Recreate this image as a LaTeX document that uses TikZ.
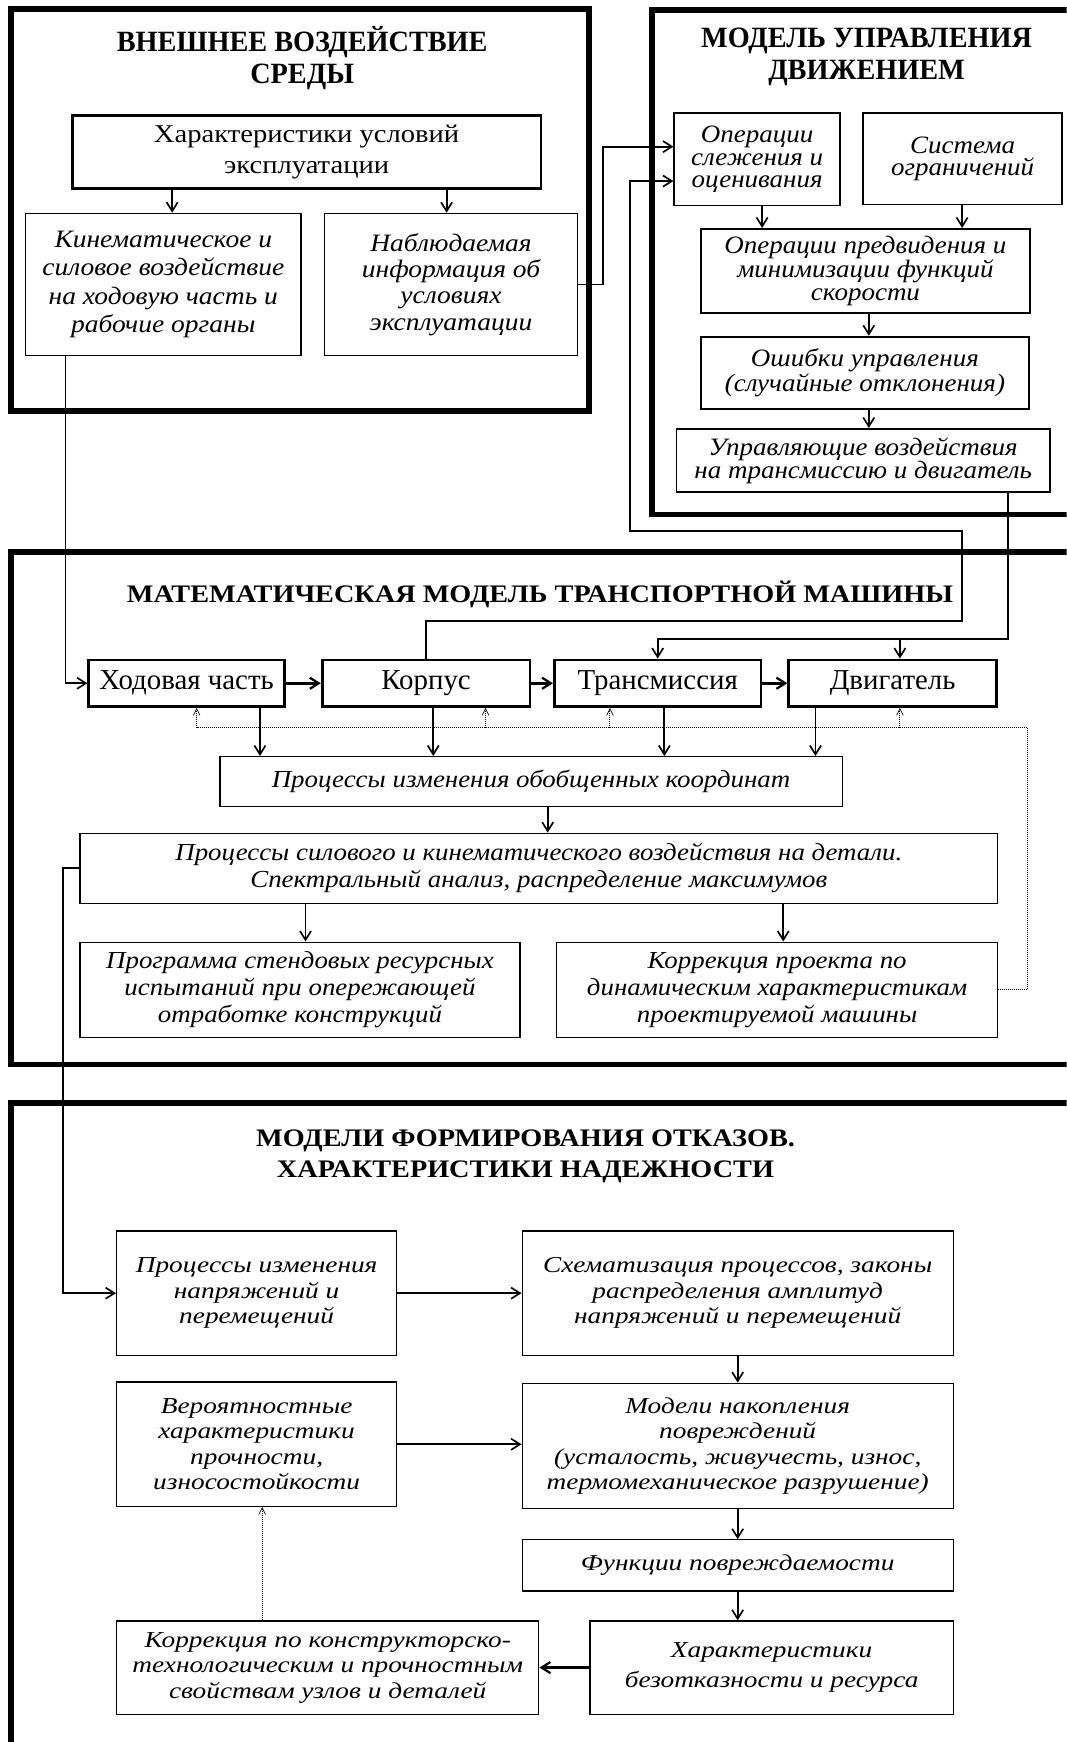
\documentclass[tikz,border=0pt]{standalone}
\usepackage{fontspec}
\setmainfont{Liberation Serif}
\newfontfamily\stA[FakeStretch=1.12]{Liberation Serif}
\newfontfamily\stB[FakeStretch=1.1]{Liberation Serif}
\newfontfamily\stC[FakeStretch=1.08]{Liberation Serif}
\newfontfamily\stD[FakeStretch=1.2]{Liberation Serif}
\newfontfamily\stE[FakeStretch=0.96]{Liberation Serif}
\usetikzlibrary{arrows.meta}
\tikzset{
  secframe/.style={draw, line width=5pt},
  boxbase/.style={draw, inner sep=0pt, align=center},
  thinbox/.style={boxbase, line width=1.1pt},
  midbox/.style={boxbase, line width=1.6pt},
  thickbox/.style={boxbase, line width=2.5pt},
  ttlA/.style={align=center, inner sep=0pt, font=\stE\bfseries\fontsize{26.5}{29}\selectfont},
  ttlB/.style={align=center, inner sep=0pt, font=\stA\bfseries\fontsize{22.7}{28}\selectfont},
  arr/.style={-{Straight Barb[length=8pt,width=10pt,line width=1.5pt]}, line width=1.6pt},
  arrthick/.style={-{Straight Barb[length=8pt,width=10pt,line width=2pt]}, line width=2.4pt},
  dotline/.style={densely dotted, line width=0.8pt},
  dotarr/.style={densely dotted, line width=0.8pt, -{Straight Barb[length=6pt,width=6pt,line width=0.6pt]}},
  fA/.style={font=\stA\fontsize{23}{28}\selectfont},
  fB/.style={font=\stB\itshape\fontsize{22.5}{25.7}\selectfont},
  fBb/.style={font=\stB\itshape\fontsize{22.5}{23.7}\selectfont},
  fC/.style={font=\stC\itshape\fontsize{22.5}{20.5}\selectfont},
  fD/.style={font=\fontsize{26}{28}\selectfont},
  fE/.style={font=\stB\itshape\fontsize{22}{24.5}\selectfont},
  fF/.style={font=\stD\itshape\fontsize{20.5}{23}\selectfont},
  fFb/.style={font=\stD\itshape\fontsize{20.5}{27}\selectfont},
}
\newcommand{\bx}[8]{\node[#2, #8, minimum width={(#5-#3)*1pt}, minimum height={(#6-#4)*1pt}] (#1) at ({(#3+#5)/2},{(#4+#6)/2}) {#7};}
\begin{document}
\begin{tikzpicture}[x=1pt,y=-1pt]
\useasboundingbox (0,0) rectangle (960,1568);
\clip (0,0) rectangle (960,1568);
% section frames
\draw[secframe] (10,8) rectangle (530,370);
\draw[secframe] (587,9) rectangle (1000,463);
\draw[secframe] (10,497) rectangle (1000,958);
\draw[secframe] (10,993) rectangle (1000,1620);
% titles
\node[ttlA] (t1) at (272,52) {ВНЕШНЕЕ ВОЗДЕЙСТВИЕ\\СРЕДЫ};
\node[ttlA] (t2) at (780,51) {МОДЕЛЬ УПРАВЛЕНИЯ\\ДВИЖЕНИЕМ};
\node[ttlB] (t3) at (486,535) {МАТЕМАТИЧЕСКАЯ МОДЕЛЬ ТРАНСПОРТНОЙ МАШИНЫ};
\node[ttlB] (t4) at (473,1041) {МОДЕЛИ ФОРМИРОВАНИЯ ОТКАЗОВ.\\ХАРАКТЕРИСТИКИ НАДЕЖНОСТИ};
% section 1
\bx{char}{thickbox}{65}{104}{487}{170}{Характеристики условий\\эксплуатации}{fA}
\bx{kin}{thinbox}{23}{192}{271}{320}{Кинематическое и\\силовое воздействие\\на ходовую часть и\\рабочие органы}{fB}
\bx{nab}{thinbox}{292}{192}{520}{320}{Наблюдаемая\\информация об\\условиях\\эксплуатации}{fBb}
% section 2
\bx{ops}{midbox}{607}{102}{756}{185}{Операции\\слежения и\\оценивания}{fC}
\bx{sys}{midbox}{777}{102}{956}{184}{Система\\ограничений}{fC}
\bx{pred}{midbox}{631}{206}{927}{282}{Операции предвидения и\\минимизации функций\\скорости}{fC}
\bx{err}{midbox}{631}{303}{926}{368}{Ошибки управления\\(случайные отклонения)}{fC}
\bx{upr}{midbox}{609}{386}{945}{443}{Управляющие воздействия\\на трансмиссию и двигатель}{fC}
% section 3
\bx{hod}{thickbox}{80}{594}{256}{636}{Ходовая часть}{fD}
\bx{korp}{thickbox}{290}{594}{477}{636}{Корпус}{fD}
\bx{trans}{thickbox}{499}{594}{685}{636}{Трансмиссия}{fD}
\bx{dvig}{thickbox}{710}{594}{897}{636}{Двигатель}{fD}
\bx{obob}{thinbox}{198}{681}{758}{726}{Процессы изменения обобщенных координат}{fE}
\bx{sil}{thinbox}{72}{750}{898}{813}{Процессы силового и кинематического воздействия на детали.\\Спектральный анализ, распределение максимумов}{fE}
\bx{prog}{thinbox}{72}{848}{468}{934}{Программа стендовых ресурсных\\испытаний при опережающей\\отработке конструкций}{fE}
\bx{korr}{thinbox}{501}{848}{898}{934}{Коррекция проекта по\\динамическим характеристикам\\проектируемой машины}{fE}
% section 4
\bx{pn}{thinbox}{105}{1108}{357}{1220}{Процессы изменения\\напряжений и\\перемещений}{fF}
\bx{sh}{thinbox}{470}{1108}{858}{1220}{Схематизация процессов, законы\\распределения амплитуд\\напряжений и перемещений}{fF}
\bx{ver}{thinbox}{105}{1244}{357}{1356}{Вероятностные\\характеристики\\прочности,\\износостойкости}{fF}
\bx{mod}{thinbox}{470}{1245}{858}{1358}{Модели накопления\\повреждений\\(усталость, живучесть, износ,\\термомеханическое разрушение)}{fF}
\bx{fun}{thinbox}{470}{1386}{858}{1432}{Функции повреждаемости}{fF}
\bx{har}{thinbox}{531}{1459}{858}{1543}{Характеристики\\безотказности и ресурса}{fFb}
\bx{kp}{thinbox}{105}{1459}{485}{1543}{Коррекция по конструкторско-\\технологическим и прочностным\\свойствам узлов и деталей}{fF}
% coordinates
\coordinate (c1) at (59,0);
\coordinate (k1) at (543,132);
\coordinate (k2) at (866,559);
\coordinate (k3) at (567,478);
\coordinate (k4) at (567,163);
\coordinate (k5) at (907,575);
\coordinate (k6) at (810,575);
\coordinate (f1) at (925,655);
\coordinate (f2) at (177,655);
\coordinate (f3) at (437,655);
\coordinate (f4) at (549,655);
\coordinate (f5) at (810,655);
\coordinate (a1) at (234,0);
\coordinate (a2) at (390,0);
\coordinate (a3) at (598,0);
\coordinate (a4) at (734,0);
\coordinate (a5) at (493,0);
\coordinate (a6) at (275,0);
\coordinate (a7) at (705,0);
\coordinate (c2) at (57,0);
\coordinate (a8) at (236,0);
\coordinate (a9) at (155,0);
\coordinate (a10) at (402,0);
\coordinate (a11) at (686,0);
\coordinate (a12) at (866,0);
\coordinate (a13) at (782,0);
% section 1 arrows
\draw[arr] (a9 |- char.south) -- (a9 |- kin.north);
\draw[arr] (a10 |- char.south) -- (a10 |- nab.north);
% section 2 arrows
\draw[arr] (a11 |- ops.south) -- (a11 |- pred.north);
\draw[arr] (a12 |- sys.south) -- (a12 |- pred.north);
\draw[arr] (a13 |- pred.south) -- (a13 |- err.north);
\draw[arr] (a13 |- err.south) -- (a13 |- upr.north);
% cross connectors
\draw[arr] (nab.east) -| (k1) -- (k1 -| ops.west);
\draw[arr] (korp.north) |- (k2) |- (k3) |- (k4 -| ops.west);
\draw[arr] (k5 |- upr.south) -- (k5) -| (trans.north);
\draw[arr] (k6) -- (k6 |- dvig.north);
\draw[arr] (c1 |- kin.south) |- (hod.west);
% row arrows
\draw[arrthick] (hod.east) -- (korp.west);
\draw[arrthick] (korp.east) -- (trans.west);
\draw[arrthick] (trans.east) -- (dvig.west);
\draw[arr] (a1 |- hod.south) -- (a1 |- obob.north);
\draw[arr] (a2 |- korp.south) -- (a2 |- obob.north);
\draw[arr] (a3 |- trans.south) -- (a3 |- obob.north);
\draw[arr] (a4 |- dvig.south) -- (a4 |- obob.north);
\draw[arr] (a5 |- obob.south) -- (a5 |- sil.north);
\draw[arr] (a6 |- sil.south) -- (a6 |- prog.north);
\draw[arr] (a7 |- sil.south) -- (a7 |- korr.north);
% feedback dotted
\draw[dotline] (korr.east) -| (f1) -- (f2);
\draw[dotarr] (f2) -- (f2 |- hod.south);
\draw[dotarr] (f3) -- (f3 |- korp.south);
\draw[dotarr] (f4) -- (f4 |- trans.south);
\draw[dotarr] (f5) -- (f5 |- dvig.south);
% to section 4
\draw[arr] (sil.west) -- (c2 |- sil.west) -- (c2 |- pn.west) -- (pn.west);
\draw[arr] (pn.east) -- (sh.west);
\draw[arr] (sh.south) -- (mod.north);
\draw[arr] (ver.east) -- (ver.east -| mod.west);
\draw[arr] (mod.south) -- (fun.north);
\draw[arr] (fun.south) -- (fun.south |- har.north);
\draw[arrthick] (har.west) -- (har.west -| kp.east);
\draw[dotarr] (a8 |- kp.north) -- (a8 |- ver.south);
\end{tikzpicture}
\end{document}
